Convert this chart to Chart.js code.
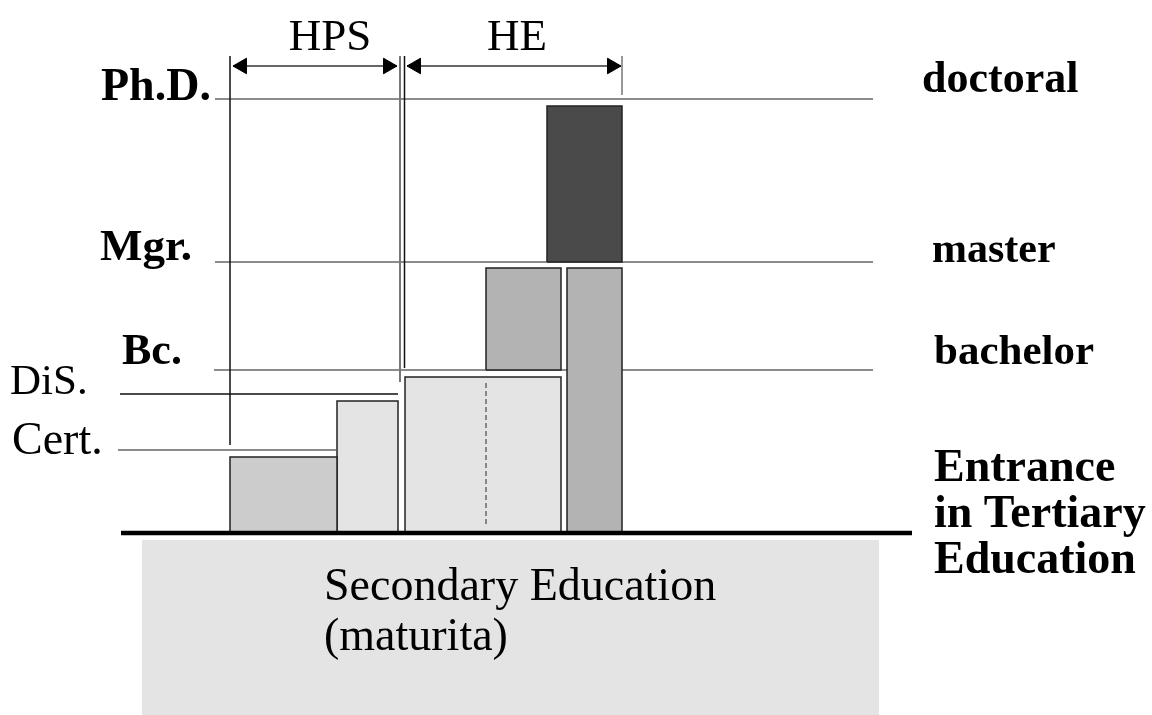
<!DOCTYPE html>
<html>
<head>
<meta charset="utf-8">
<script src="https://cdn.jsdelivr.net/npm/chart.js@4.4.0/dist/chart.umd.min.js"></script>
<style>
html, body { margin: 0; padding: 0; background: #fff; }
#wrap { width: 1152px; height: 715px; position: relative; }
</style>
</head>
<body>
<div id="wrap"><canvas id="myChart"></canvas></div>
<script>
// diagram units: x across the page, y = height above the entrance line

// qualification levels (left labels) and where their guide lines run
var levelNames = ["Cert.", "DiS.", "Bc.", "Mgr.", "Ph.D."];
var levelHeights = [83, 139, 163, 271, 434];
var levelStarts = [118, 120, 214, 215, 215];
var levelEnds = [336, 398, 873, 873, 873];

// study programmes (the blocks)
var programStarts = [230, 337, 405, 486, 567, 547];
var programEnds = [337, 398, 561, 561, 622, 622];
var programBottoms = [0, 0, 0, 163, 0, 271];
var programTops = [76, 132, 156, 265, 265, 427];

// sectors across the top
var sectorNames = ["HPS", "HE"];
var sectorStarts = [233, 407];
var sectorEnds = [397, 621];
var sectorHeight = 467;

// right hand side names
var degreeNames = ["doctoral", "master", "bachelor"];
var entranceText = ["Entrance", "in Tertiary", "Education"];
var secondaryText = ["Secondary Education", "(maturita)"];

// styles
var programColors = ["#cccccc", "#e4e4e4", "#e4e4e4", "#b3b3b3", "#b3b3b3", "#4a4a4a"];
var serif = "'Liberation Serif', 'Times New Roman', serif";

function pts(list) {
  return list.map(function(p) { return { x: p[0], y: p[1] }; });
}

function lineSet(points, color, width, order, more) {
  var ds = {
    data: pts(points),
    showLine: true,
    borderColor: color,
    borderWidth: width,
    backgroundColor: color,
    pointRadius: 0,
    fill: false,
    order: order
  };
  if (more) { for (var k in more) ds[k] = more[k]; }
  return ds;
}

function box(x0, x1, y0, y1, fillColor, edge, width, order) {
  return lineSet([[x0, y0], [x0, y1], [x1, y1], [x1, y0], [x0, y0]], edge, width, order, {
    fill: 'shape',
    backgroundColor: fillColor
  });
}

var datasets = [];

// secondary education block under the line
datasets.push(box(142, 879, -7, -182, "#e4e4e4", "transparent", 0, 20));

// level guide lines
for (var i = 0; i < levelNames.length; i++) {
  var c = (i == 1) ? "#111" : "#666";
  datasets.push(lineSet([[levelStarts[i], levelHeights[i]], [levelEnds[i], levelHeights[i]]], c, 1.5, 15));
}

// vertical separators
datasets.push(lineSet([[230, 477], [230, 88]], "#111", 1.5, 14));
datasets.push(lineSet([[400, 477], [400, 151]], "#777", 2, 14));
datasets.push(lineSet([[404.5, 477], [404.5, 165]], "#111", 1.5, 14));
datasets.push(lineSet([[622, 477], [622, 438]], "#777", 1.5, 14));

// programme blocks
for (var j = 0; j < programStarts.length; j++) {
  datasets.push(box(programStarts[j], programEnds[j], programBottoms[j], programTops[j],
    programColors[j], "#222", 1.5, 10));
}

// dashed split inside the bachelor block
datasets.push(lineSet([[486, 150], [486, 8]], "#666", 1.5, 9, { borderDash: [5, 3] }));

// entrance line
datasets.push(lineSet([[121, 0], [912, 0]], "#000", 4.5, 5));

// sector arrows
var headR = 9;
var heads = [];
var headRot = [];
for (var s = 0; s < sectorNames.length; s++) {
  datasets.push(lineSet([[sectorStarts[s], sectorHeight], [sectorEnds[s], sectorHeight]], "#333", 1.5, 4));
  heads.push({ x: sectorStarts[s] + headR, y: sectorHeight });
  headRot.push(-90);
  heads.push({ x: sectorEnds[s] - headR, y: sectorHeight });
  headRot.push(90);
}
datasets.push({
  data: heads,
  showLine: false,
  pointStyle: 'triangle',
  pointRotation: headRot,
  pointRadius: headR,
  backgroundColor: "#000",
  borderColor: "#000",
  borderWidth: 1,
  order: 3
});

// text positions (diagram units)
var texts = [];
texts.push({ t: sectorNames[0], x: 330, y: 483, w: "normal", s: 45, a: "center" });
texts.push({ t: sectorNames[1], x: 517, y: 483, w: "normal", s: 45, a: "center" });
texts.push({ t: levelNames[4], x: 101, y: 433, w: "bold", s: 46, a: "left" });
texts.push({ t: levelNames[3], x: 100, y: 273, w: "bold", s: 45, a: "left" });
texts.push({ t: levelNames[2], x: 122, y: 169, w: "bold", s: 44, a: "left" });
texts.push({ t: levelNames[1], x: 10, y: 139, w: "normal", s: 43, a: "left" });
texts.push({ t: levelNames[0], x: 12, y: 79, w: "normal", s: 46, a: "left" });
texts.push({ t: degreeNames[0], x: 922, y: 441, w: "bold", s: 44, a: "left" });
texts.push({ t: degreeNames[1], x: 932, y: 271, w: "bold", s: 42, a: "left" });
texts.push({ t: degreeNames[2], x: 934, y: 169, w: "bold", s: 43, a: "left" });
for (var e = 0; e < entranceText.length; e++) {
  texts.push({ t: entranceText[e], x: 934, y: 52 - e * 46, w: "bold", s: 46, a: "left" });
}
for (var q = 0; q < secondaryText.length; q++) {
  texts.push({ t: secondaryText[q], x: 324, y: -67 - q * 50, w: "normal", s: 46, a: "left" });
}

var textPlugin = {
  id: 'diagramText',
  afterDatasetsDraw: function(chart) {
    var ctx = chart.ctx;
    var xs = chart.scales.x, ys = chart.scales.y;
    ctx.save();
    ctx.fillStyle = "#000";
    ctx.textBaseline = "alphabetic";
    texts.forEach(function(l) {
      ctx.font = l.w + " " + l.s + "px " + serif;
      ctx.textAlign = l.a;
      ctx.fillText(l.t, xs.getPixelForValue(l.x), ys.getPixelForValue(l.y));
    });
    ctx.restore();
  }
};

var myChart = new Chart(document.getElementById('myChart'), {
  type: 'scatter',
  data: { datasets: datasets },
  options: {
    responsive: true,
    maintainAspectRatio: false,
    animation: false,
    events: [],
    layout: { padding: 0, autoPadding: false },
    plugins: { legend: { display: false }, tooltip: { enabled: false } },
    scales: {
      x: { type: 'linear', min: 0, max: 1152, display: false },
      y: { type: 'linear', min: -182, max: 533, display: false }
    }
  },
  plugins: [textPlugin]
});
</script>
</body>
</html>
